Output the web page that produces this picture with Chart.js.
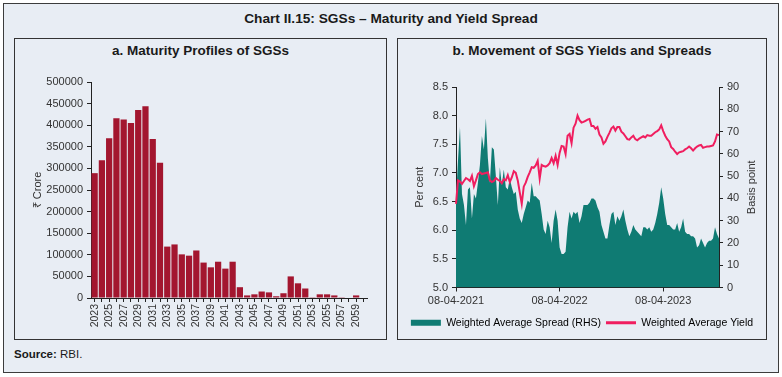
<!DOCTYPE html>
<html>
<head>
<meta charset="utf-8">
<script src="https://cdn.jsdelivr.net/npm/chart.js@4.4.0/dist/chart.umd.min.js"></script>
<style>
  body { margin: 0; background: #fff; font-family: "Liberation Sans", Arial, sans-serif; color: #1a1a1a; }
  .box { position: absolute; box-sizing: border-box; background: #e8edf4; }
  #outer { left: 3px; top: 3px; width: 776px; height: 370px; border: 1.5px solid #3c3c3c; }
  .panel { top: 38px; height: 302px; border: 1px solid #333; }
  #pa { left: 14px; width: 373px; }
  #pb { left: 397px; width: 370px; }
  .title { position: absolute; left: 0; width: 782px; top: 11px; text-align: center; font-weight: bold; font-size: 13.7px; }
  .ptitle { position: absolute; top: 43px; text-align: center; font-weight: bold; font-size: 13.5px; }
  .src { position: absolute; left: 14px; top: 348px; font-size: 11.5px; }
  canvas { position: absolute; }
</style>
</head>
<body>
<div id="outer" class="box"></div>
<div id="pa" class="box panel"></div>
<div id="pb" class="box panel"></div>
<div class="title">Chart II.15: SGSs – Maturity and Yield Spread</div>
<div class="ptitle" style="left:14px;width:373px;">a. Maturity Profiles of SGSs</div>
<div class="ptitle" style="left:397px;width:370px;">b. Movement of SGS Yields and Spreads</div>
<div class="src"><b>Source:</b> RBI.</div>
<canvas id="chartA" width="371" height="278" style="left:15px;top:60px;"></canvas>
<canvas id="chartB" width="368" height="279" style="left:398px;top:60px;"></canvas>
<script>
// panel a: maturity profile (Rs crore)
var years = ['2023', '2024', '2025', '2026', '2027', '2028', '2029', '2030', '2031', '2032',
    '2033', '2034', '2035', '2036', '2037', '2038', '2039', '2040', '2041', '2042',
    '2043', '2044', '2045', '2046', '2047', '2048', '2049', '2050', '2051', '2052',
    '2053', '2054', '2055', '2056', '2057', '2058', '2059', '2060'];
var maturity = [289000, 319000, 370000, 416000, 413000, 405000, 435000, 444000, 368000, 313000,
    119000, 124000, 101000, 98000, 110000, 82000, 71000, 84000, 68000, 84000,
    25000, 6000, 8500, 15000, 13000, 4000, 11000, 50000, 34000, 22000,
    500, 8500, 8500, 6000, 500, 0, 6000, 0];

// panel b: weekly observations from 08-04-2021
var startDate = new Date(2021, 3, 8);
var spread = [40, 57, 72, 42, 37, 28, 44, 45, 31, 42, 40, 47, 55, 68, 62, 76, 58, 47, 63, 62,
    50, 37, 54, 46, 53, 45, 44, 49, 45, 42, 43, 35, 31, 29, 33, 36, 39, 38, 47, 41,
    41, 40, 39, 33, 26, 24, 30, 27, 20, 30, 35, 30, 18, 15, 15, 16, 27, 34, 31, 34,
    33, 34, 29, 32, 37, 37, 37, 38, 40, 40, 39, 36, 34, 28, 25, 22, 22, 28, 33, 34,
    28, 32, 30, 32, 35, 30, 26, 23, 25, 28, 26, 25, 24, 23, 27, 27, 26, 27, 25, 26,
    29, 33, 38, 45, 40, 33, 28, 28, 27, 26, 26, 29, 25, 27, 31, 25, 24, 24, 23, 23,
    22, 18, 19, 22, 20, 18, 20, 21, 21, 22, 27, 24, 22];
var yieldPct = [6.46, 6.87, 6.85, 6.81, 6.86, 6.91, 6.89, 6.86, 6.95, 6.77, 6.87, 6.98, 7.01, 6.98, 6.99, 7.00, 7.01, 6.87, 6.84, 6.86,
    6.91, 6.88, 6.86, 6.82, 6.89, 6.87, 6.96, 6.84, 6.92, 7.03, 7.00, 6.87, 6.66, 6.46, 6.76, 6.83, 6.93, 7.01, 7.10, 7.09,
    7.13, 7.21, 6.90, 7.14, 7.12, 7.11, 7.13, 7.17, 7.26, 7.17, 7.30, 7.14, 7.35, 7.47, 7.46, 7.33, 7.65, 7.68, 7.52, 7.79,
    7.86, 8.00, 7.92, 7.88, 7.89, 7.91, 7.93, 7.94, 7.82, 7.82, 7.77, 7.80, 7.67, 7.62, 7.51, 7.55, 7.63, 7.70, 7.78, 7.81,
    7.74, 7.80, 7.80, 7.72, 7.69, 7.64, 7.59, 7.58, 7.62, 7.65, 7.59, 7.57, 7.60, 7.62, 7.64, 7.62, 7.66, 7.65, 7.65, 7.68,
    7.71, 7.73, 7.76, 7.83, 7.73, 7.65, 7.59, 7.55, 7.45, 7.42, 7.37, 7.33, 7.36, 7.37, 7.38, 7.41, 7.43, 7.46, 7.43, 7.39,
    7.43, 7.46, 7.48, 7.49, 7.44, 7.45, 7.46, 7.46, 7.47, 7.48, 7.55, 7.67, 7.66];
var xTickIdx = [0, 52, 104];
var xTickLabels = ['08-04-2021', '08-04-2022', '08-04-2023'];

function pad2(n) { return n < 10 ? '0' + n : '' + n; }
var weeks = [];
for (var i = 0; i < spread.length; i++) {
    var d = new Date(startDate.getTime());
    d.setDate(d.getDate() + 7 * i);
    weeks.push(pad2(d.getDate()) + '-' + pad2(d.getMonth() + 1) + '-' + d.getFullYear());
}

Chart.defaults.font.family = '"Liberation Sans", Arial, sans-serif';
Chart.defaults.color = '#222';
Chart.defaults.animation = false;

var axisLine = '#222';

// right-hand axis title, reading upwards like the left one
var rhsTitle = {
    id: 'rhsTitle',
    afterDraw: function (chart) {
        var s = chart.scales.y2;
        var c = chart.ctx;
        c.save();
        c.translate(s.right - 14, (s.top + s.bottom) / 2);
        c.rotate(-Math.PI / 2);
        c.font = '11px "Liberation Sans", Arial, sans-serif';
        c.fillStyle = '#333';
        c.textAlign = 'center';
        c.textBaseline = 'middle';
        c.fillText('Basis point', 0, 0);
        c.restore();
    }
};

var ctxA = document.getElementById('chartA').getContext('2d');
var chartA = new Chart(ctxA, {
    type: 'bar',
    data: {
        labels: years,
        datasets: [{
            label: 'Maturity',
            data: maturity,
            backgroundColor: '#a3162f',
            borderWidth: 0,
            barPercentage: 0.86,
            categoryPercentage: 1
        }]
    },
    options: {
        responsive: false,
        layout: { padding: { top: 22, right: 19, left: 0, bottom: 0 } },
        plugins: { legend: { display: false }, tooltip: { enabled: false } },
        scales: {
            x: {
                grid: { drawOnChartArea: false, offset: false, tickLength: 4, color: axisLine },
                border: { color: axisLine, width: 1 },
                ticks: {
                    autoSkip: false, minRotation: 90, maxRotation: 90, padding: 2,
                    font: { size: 10.5 }, color: '#333',
                    callback: function (v, i) { return i % 2 === 0 ? years[i] : ''; }
                },
                afterFit: function (s) { s.height = 40; }
            },
            y: {
                min: 0, max: 500000,
                grid: { drawOnChartArea: false, tickLength: 4, color: axisLine },
                border: { color: axisLine, width: 1 },
                ticks: { stepSize: 50000, font: { size: 11 }, color: '#333', padding: 4,
                    callback: function (v) { return String(v); } },
                title: { display: true, text: '₹ Crore', font: { size: 11 }, color: '#333', padding: { top: 16, bottom: 0 } },
                afterFit: function (s) { s.width = 76; }
            }
        }
    }
});

var ctxB = document.getElementById('chartB').getContext('2d');
var chartB = new Chart(ctxB, {
    type: 'line',
    data: {
        labels: weeks,
        datasets: [{
            label: 'Weighted Average Spread (RHS)',
            data: spread,
            yAxisID: 'y2',
            order: 2,
            fill: 'origin',
            backgroundColor: '#0f7b73',
            borderWidth: 0,
            pointRadius: 0
        }, {
            label: 'Weighted Average Yield',
            data: yieldPct,
            yAxisID: 'y',
            order: 1,
            fill: false,
            borderColor: '#f01e5f',
            borderWidth: 2,
            pointRadius: 0
        }]
    },
    options: {
        responsive: false,
        layout: { padding: { top: 27, right: 0, left: 0, bottom: 1 } },
        plugins: {
            tooltip: { enabled: false },
            legend: {
                position: 'bottom',
                labels: {
                    usePointStyle: true,
                    pointStyleWidth: 30,
                    boxHeight: 6,
                    padding: 5,
                    font: { size: 10.5 },
                    color: '#222',
                    generateLabels: function () {
                        return [
                            { text: 'Weighted Average Spread (RHS)', pointStyle: 'rect', fillStyle: '#0f7b73', strokeStyle: '#0f7b73', lineWidth: 0, datasetIndex: 0 },
                            { text: 'Weighted Average Yield', pointStyle: 'line', fillStyle: '#f01e5f', strokeStyle: '#f01e5f', lineWidth: 3, datasetIndex: 1 }
                        ];
                    }
                }
            }
        },
        scales: {
            x: {
                grid: { drawOnChartArea: false, tickLength: 4, color: axisLine },
                border: { color: axisLine, width: 1 },
                afterBuildTicks: function (s) {
                    s.ticks = xTickIdx.map(function (v) { return { value: v }; });
                },
                ticks: {
                    autoSkip: false, maxRotation: 0, font: { size: 11 }, color: '#333', padding: 3,
                    callback: function (v, i) { return xTickLabels[i]; }
                },
                afterFit: function (s) { s.height = 25; }
            },
            y: {
                position: 'left',
                min: 5, max: 8.5,
                grid: { drawOnChartArea: false, tickLength: 4, color: axisLine },
                border: { color: axisLine, width: 1 },
                ticks: { stepSize: 0.5, font: { size: 11 }, color: '#333', padding: 4,
                    callback: function (v) { return v.toFixed(1); } },
                title: { display: true, text: 'Per cent', font: { size: 11 }, color: '#333', padding: { top: 15, bottom: 0 } },
                afterFit: function (s) { s.width = 58; }
            },
            y2: {
                position: 'right',
                min: 0, max: 90,
                grid: { drawOnChartArea: false, tickLength: 4, color: axisLine },
                border: { color: axisLine, width: 1 },
                ticks: { stepSize: 10, font: { size: 11 }, color: '#333', padding: 4 },
                afterFit: function (s) { s.width = 47; }
            }
        }
    },
    plugins: [rhsTitle]
});
</script>
</body>
</html>
